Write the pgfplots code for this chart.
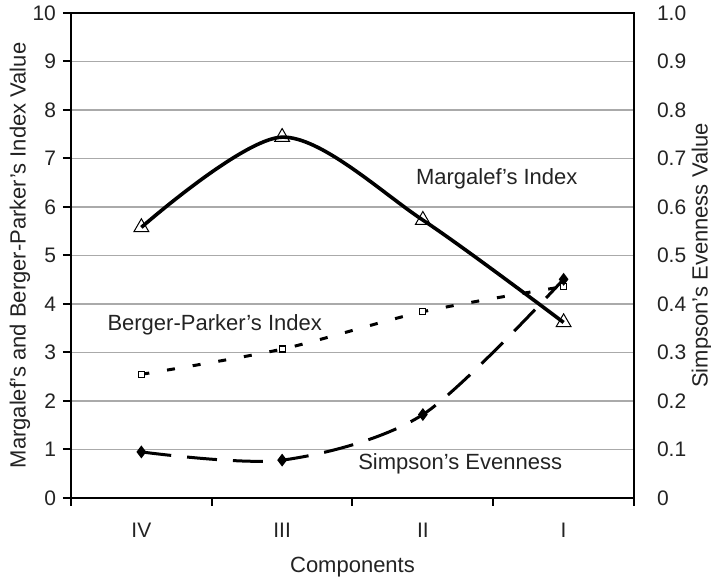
\documentclass[border=0pt]{standalone}
\usepackage{pgfplots}
\pgfplotsset{compat=1.18}
\usepackage{fontspec}
\setmainfont{Liberation Sans}
\definecolor{gridgray}{RGB}{170,170,170}
\definecolor{txt}{RGB}{35,35,35}
\begin{document}
\begin{tikzpicture}
\path[use as bounding box] (-35.5pt,-41.5pt) rectangle (320pt,249pt);
\begin{axis}[
  at={(0pt,0pt)}, anchor=south west,
  scale only axis, width=281.5pt, height=242.5pt,
  xmin=-0.5, xmax=3.5, ymin=0, ymax=10,
  xtick={0,1,2,3}, xticklabels={IV,III,II,I},
  minor xtick={-0.5,0.5,1.5,2.5,3.5},
  ytick={0,1,2,3,4,5,6,7,8,9,10}, yticklabels={0,1,2,3,4,5,6,7,8,9,10},
  xtick pos=bottom, ytick pos=left,
  tick align=outside,
  major tick length=4pt, minor tick length=4pt,
  every major x tick/.style={draw=none},
  every minor x tick/.style={black, line width=1pt},
  every major y tick/.style={black, line width=1pt},
  ymajorgrids, grid style={gridgray, line width=0.6pt},
  axis line style={black, line width=1pt},
  tick label style={font=\fontsize{10.5}{12}\selectfont, text=txt},
  label style={font=\fontsize{11}{13}\selectfont, text=txt},
  xlabel={Components},
  x label style={at={(axis description cs:0.5,-0.142)}, anchor=center},
  ylabel={Margalef’s and Berger-Parker’s Index Value},
  y label style={at={(axis description cs:-0.0906,0.5)}, anchor=center, rotate=0},
  xticklabel style={anchor=base, yshift=-15.6pt},
  clip=false,
]
\addplot[black, line width=1.8pt, smooth, tension=0.5,
  mark=triangle, mark size=4.3pt,
  mark options={solid, fill=white, line width=0.5pt}]
  coordinates {(0,5.58)(1,7.44)(2,5.73)(3,3.62)};
\addplot[black, line width=1.5pt, smooth, tension=0.5,
  dash pattern=on 4pt off 9pt,
  mark=square*, mark size=1.5pt,
  mark options={solid, fill=white, line width=0.6pt}]
  coordinates {(0,2.55)(1,3.07)(2,3.84)(3,4.36)};
\node[font=\fontsize{11}{13}\selectfont, text=txt] at (axis cs:2.525,6.58) {Margalef’s Index};
\node[font=\fontsize{11}{13}\selectfont, text=txt] at (axis cs:0.521,3.57) {Berger-Parker’s Index};
\node[font=\fontsize{11}{13}\selectfont, text=txt] at (axis cs:2.265,0.715) {Simpson’s Evenness};
\end{axis}
\begin{axis}[
  at={(0pt,0pt)}, anchor=south west,
  scale only axis, width=281.5pt, height=242.5pt,
  xmin=-0.5, xmax=3.5, ymin=0, ymax=1,
  axis x line=none, axis y line*=right,
  ytick={0,0.1,0.2,0.3,0.4,0.5,0.6,0.7,0.8,0.9,1},
  yticklabels={0,0.1,0.2,0.3,0.4,0.5,0.6,0.7,0.8,0.9,1.0},
  major tick length=0pt,
  axis line style={black, line width=1pt},
  tick label style={font=\fontsize{10.5}{12}\selectfont, text=txt},
  yticklabel style={xshift=8pt},
  label style={font=\fontsize{11}{13}\selectfont, text=txt},
  ylabel={Simpson’s Evenness Value},
  y label style={at={(axis description cs:1.1205,0.5)}, anchor=center, rotate=0},
  clip=false,
]
\addplot[black, line width=1.5pt, smooth, tension=0.5,
  dash pattern=on 15pt off 8pt,
  mark=diamond*, mark size=2pt,
  mark options={solid}]
  coordinates {(0,0.095)(1,0.078)(2,0.172)(3,0.451)};
\end{axis}
\end{tikzpicture}
\end{document}
